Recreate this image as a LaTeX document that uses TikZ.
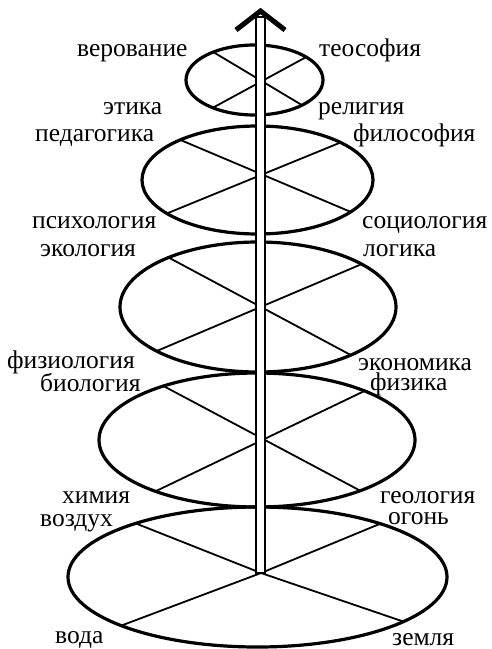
\documentclass[tikz,border=0pt]{standalone}
\usepackage{fontspec}
\setmainfont{Liberation Serif}
\begin{document}
\begin{tikzpicture}[x=1pt,y=-1pt,
  ell/.style={line width=3.2pt},
  spoke/.style={line width=1.8pt},
  lab/.style={anchor=base west, inner sep=0pt, font=\fontsize{25.5}{30}\selectfont},
  polebox/.style={fill=white, draw=black, line width=1.5pt},
  chev/.style={line width=5pt, line cap=butt, line join=miter}]
\useasboundingbox (0,0) rectangle (491,649);
% centres
\coordinate (c1) at (254.5,80);
\coordinate (c2) at (257.5,180);
\coordinate (c3) at (258,307);
\coordinate (c4) at (257,440);
\coordinate (c5) at (257.5,577);
\coordinate (hub) at (261,573);
% ellipses
\draw[ell] (c1) ellipse [x radius=68.5, y radius=35];
\draw[ell] (c2) ellipse [x radius=115.5, y radius=54];
\draw[ell] (c3) ellipse [x radius=138, y radius=65];
\draw[ell] (c4) ellipse [x radius=158, y radius=67];
\draw[ell] (c5) ellipse [x radius=189.5, y radius=70];
% rim points
\path (c1) ++(233:68.5 and 35) coordinate (ul1);
\path (c1) ++(319:68.5 and 35) coordinate (ur1);
\path (c1) ++(127.5:68.5 and 35) coordinate (ll1);
\path (c1) ++(46:68.5 and 35) coordinate (lr1);
\path (c2) ++(228:115.5 and 54) coordinate (ul2);
\path (c2) ++(316:115.5 and 54) coordinate (ur2);
\path (c2) ++(141.7:115.5 and 54) coordinate (ll2);
\path (c2) ++(36.2:115.5 and 54) coordinate (lr2);
\path (c3) ++(229.6:138 and 65) coordinate (ul3);
\path (c3) ++(318.7:138 and 65) coordinate (ur3);
\path (c3) ++(137.3:138 and 65) coordinate (ll3);
\path (c3) ++(47.7:138 and 65) coordinate (lr3);
\path (c4) ++(233.7:158 and 67) coordinate (ul4);
\path (c4) ++(312.9:158 and 67) coordinate (ur4);
\path (c4) ++(130:158 and 67) coordinate (ll4);
\path (c4) ++(49.2:158 and 67) coordinate (lr4);
\path (c5) ++(230:189.5 and 70) coordinate (ul5);
\path (c5) ++(310.4:189.5 and 70) coordinate (ur5);
\path (c5) ++(136:189.5 and 70) coordinate (ll5);
\path (c5) ++(39.6:189.5 and 70) coordinate (lr5);
% cross lines
\foreach \i in {1,2,3,4}{
  \draw[spoke] (ul\i) -- (lr\i);
  \draw[spoke] (ll\i) -- (ur\i);
}
\draw[spoke] (ul5) -- (hub) -- (ur5);
\draw[spoke] (ll5) -- (hub) -- (lr5);
% pole and arrow
\coordinate (top) at (260.5,11);
\draw[polebox] (256,17) rectangle (265,573);
\coordinate (chl) at (236,30);
\coordinate (chr) at (285,30);
\draw[chev] (chl) -- (top) -- (chr);
% labels
\node[lab] (l1) at (77,56) {верование};
\node[lab] (r1) at (319,56) {теософия};
\node[lab] (l2) at (103,114) {этика};
\node[lab] (r2) at (318,114) {религия};
\node[lab] (l3) at (35,141) {педагогика};
\node[lab] (r3) at (353,141) {философия};
\node[lab] (l4) at (32,228) {психология};
\node[lab] (r4) at (362,228) {социология};
\node[lab] (l5) at (40,256) {экология};
\node[lab] (r5) at (363,256) {логика};
\node[lab] (l6) at (7,368) {физиология};
\node[lab] (r6) at (358,370) {экономика};
\node[lab] (l7) at (40,391) {биология};
\node[lab] (r7) at (370,390) {физика};
\node[lab] (l8) at (62,503) {химия};
\node[lab] (r8) at (380,503) {геология};
\node[lab] (l9) at (40,526) {воздух};
\node[lab] (r9) at (388,524) {огонь};
\node[lab] (l10) at (55,643) {вода};
\node[lab] (r10) at (392,645) {земля};
\end{tikzpicture}
\end{document}
